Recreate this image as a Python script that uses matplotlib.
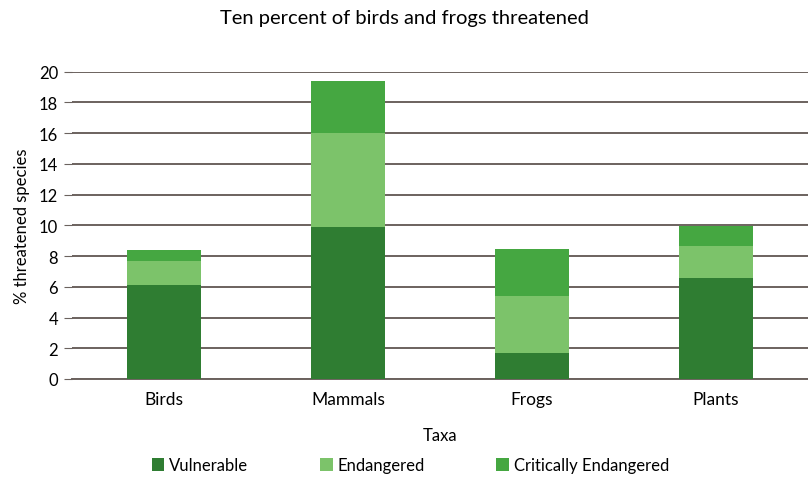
import matplotlib
matplotlib.use('Agg')
import matplotlib.pyplot as plt
import numpy as np

plt.rcParams['font.family'] = ['Lato', 'DejaVu Sans']

# data
taxa = ['Birds', 'Mammals', 'Frogs', 'Plants']
vulnerable = [6.1, 9.9, 1.7, 6.55]
endangered = [1.6, 6.1, 3.7, 2.1]
critically = [0.7, 3.4, 3.05, 1.3]

c_vul = '#2f7d32'
c_end = '#7cc36a'
c_crit = '#45a741'

fig = plt.figure(figsize=(8.08, 4.81), dpi=100)
ax = fig.add_axes([0.089, 0.21, 0.911, 0.639])

x = np.arange(len(taxa))
w = 0.4
vul = np.array(vulnerable)
end = np.array(endangered)
crit = np.array(critically)

ax.bar(x, vul, w, color=c_vul, label='Vulnerable', zorder=3)
ax.bar(x, end, w, bottom=vul, color=c_end, label='Endangered', zorder=3)
ax.bar(x, crit, w, bottom=vul + end, color=c_crit, label='Critically Endangered', zorder=3)

ax.set_xlim(-0.5, 3.5)
ax.set_ylim(0, 20)
ax.set_yticks(np.arange(0, 21, 2))
ax.set_xticks(x)
ax.set_xticklabels(taxa, fontsize=12.5)
ax.tick_params(axis='y', labelsize=12, length=6, color='#6b625e', pad=4)
ax.tick_params(axis='x', length=0, pad=9)
ax.yaxis.grid(True, color='#6b625e', linewidth=1.4, zorder=0)
ax.set_axisbelow(True)

for s in ['top', 'right', 'left']:
    ax.spines[s].set_visible(False)
ax.spines['bottom'].set_color('#6b625e')
ax.spines['bottom'].set_linewidth(1.4)

ax.set_xlabel('Taxa', fontsize=12, labelpad=14)
ax.set_ylabel('% threatened species', fontsize=12, labelpad=6)
fig.text(0.5, 0.962, 'Ten percent of birds and frogs threatened', fontsize=14.5,
         ha='center', va='center')

ax.legend(loc='center', bbox_to_anchor=(0.46, -0.28), ncol=3, frameon=False,
          fontsize=12, handlelength=0.75, handleheight=0.85, handletextpad=0.3, columnspacing=4.3)

fig.savefig('out.png', dpi=100)
